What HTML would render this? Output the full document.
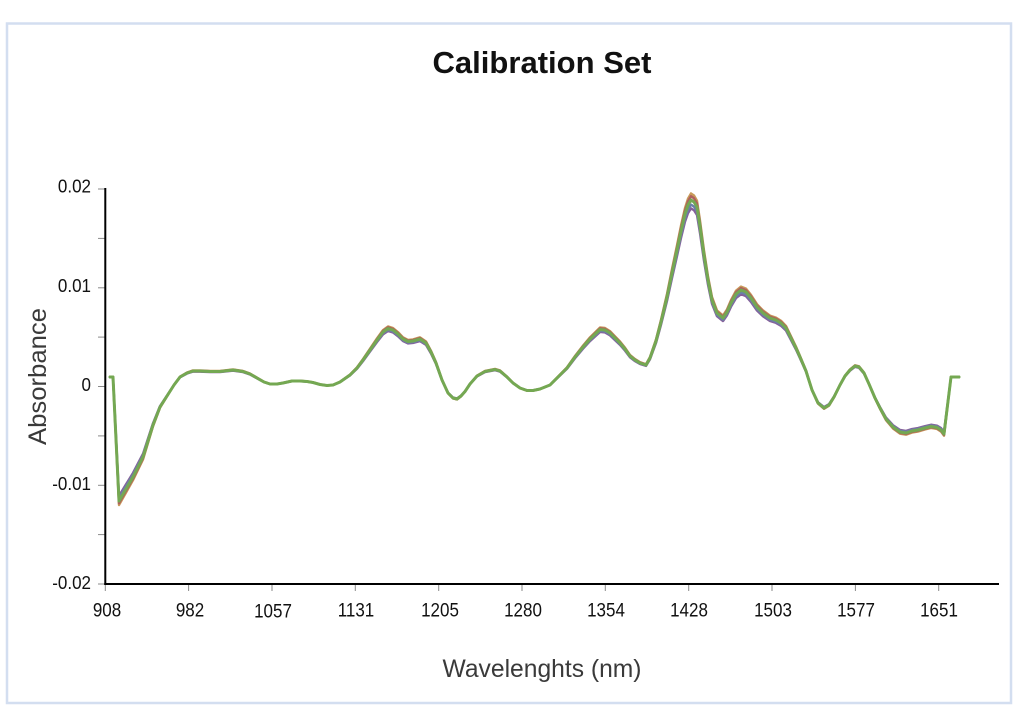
<!DOCTYPE html>
<html>
<head>
<meta charset="utf-8">
<style>
  html, body { margin:0; padding:0; background:#ffffff; }
  body { width:1024px; height:726px; overflow:hidden; }
  svg { display:block; }
  text { font-family: "Liberation Sans", "DejaVu Sans", sans-serif; }
</style>
</head>
<body>
<svg width="1024" height="726" viewBox="0 0 1024 726" xmlns="http://www.w3.org/2000/svg">
  <rect x="0" y="0" width="1024" height="726" fill="#ffffff"/>
  <!-- frame -->
  <rect x="7" y="23.5" width="1004" height="679.5" fill="#ffffff" stroke="#d3def0" stroke-width="2.5"/>

  <!-- title -->
  <text x="542" y="73" text-anchor="middle" font-size="31" font-weight="bold" fill="#111" textLength="219" lengthAdjust="spacingAndGlyphs">Calibration Set</text>

  <!-- y ticks -->
  <g stroke="#8a8a8a" stroke-width="1">
    <line x1="98" y1="189" x2="105" y2="189"/>
    <line x1="98" y1="238.4" x2="105" y2="238.4"/>
    <line x1="98" y1="287.8" x2="105" y2="287.8"/>
    <line x1="98" y1="337.1" x2="105" y2="337.1"/>
    <line x1="98" y1="386.5" x2="105" y2="386.5"/>
    <line x1="98" y1="435.9" x2="105" y2="435.9"/>
    <line x1="98" y1="485.3" x2="105" y2="485.3"/>
    <line x1="98" y1="534.6" x2="105" y2="534.6"/>
    <line x1="98" y1="584" x2="105" y2="584"/>
  </g>
  <!-- x ticks -->
  <g stroke="#8a8a8a" stroke-width="1">
    <line x1="105.3" y1="584" x2="105.3" y2="591"/>
    <line x1="188.6" y1="584" x2="188.6" y2="591"/>
    <line x1="272" y1="584" x2="272" y2="591"/>
    <line x1="355.3" y1="584" x2="355.3" y2="591"/>
    <line x1="438.7" y1="584" x2="438.7" y2="591"/>
    <line x1="522" y1="584" x2="522" y2="591"/>
    <line x1="605.3" y1="584" x2="605.3" y2="591"/>
    <line x1="688.7" y1="584" x2="688.7" y2="591"/>
    <line x1="772" y1="584" x2="772" y2="591"/>
    <line x1="855.4" y1="584" x2="855.4" y2="591"/>
    <line x1="938.7" y1="584" x2="938.7" y2="591"/>
  </g>

  <!-- axes -->
  <line x1="105.3" y1="188" x2="105.3" y2="585" stroke="#000" stroke-width="2"/>
  <line x1="104.3" y1="584" x2="999" y2="584" stroke="#000" stroke-width="2"/>

  <!-- y labels -->
  <g font-size="17" fill="#111" text-anchor="end">
    <text transform="translate(91,192.5) scale(1,1.1)">0.02</text>
    <text transform="translate(91,292) scale(1,1.1)">0.01</text>
    <text transform="translate(91,391) scale(1,1.1)">0</text>
    <text transform="translate(91,490) scale(1,1.1)">-0.01</text>
    <text transform="translate(91,589) scale(1,1.1)">-0.02</text>
  </g>
  <!-- x labels -->
  <g font-size="17" fill="#111" text-anchor="middle">
    <text transform="translate(107,616.5) scale(1,1.12)">908</text>
    <text transform="translate(190,616.5) scale(1,1.12)">982</text>
    <text transform="translate(273,617.5) scale(1,1.12)">1057</text>
    <text transform="translate(356,616.5) scale(1,1.12)">1131</text>
    <text transform="translate(440,616.5) scale(1,1.12)">1205</text>
    <text transform="translate(523,616.5) scale(1,1.12)">1280</text>
    <text transform="translate(606,616.5) scale(1,1.12)">1354</text>
    <text transform="translate(689,616.5) scale(1,1.12)">1428</text>
    <text transform="translate(773,616.5) scale(1,1.12)">1503</text>
    <text transform="translate(856,616.5) scale(1,1.12)">1577</text>
    <text transform="translate(939,616.5) scale(1,1.12)">1651</text>
  </g>

  <!-- axis titles -->
  <text x="542" y="677" text-anchor="middle" font-size="25" fill="#3a3a3a" textLength="199" lengthAdjust="spacingAndGlyphs">Wavelenghts (nm)</text>
  <text transform="translate(46,376.5) rotate(-90)" text-anchor="middle" font-size="25" fill="#3a3a3a" textLength="137" lengthAdjust="spacingAndGlyphs">Absorbance</text>

  <defs>
    <path id="spec" fill="none" stroke-linejoin="round" stroke-linecap="round"
      d="M110,377 L113,377 L119,501 L126,489 L133,477 L143,457 L153,425 L160,407 L167,396 L174,385 L180,377 L187,373 L193,371 L200,371 L210,371.5 L220,371.5 L233,370 L243,371.5 L250,374 L257,378 L264,382 L270,384 L277,384 L283,383 L292,381 L300,381 L307,381.5 L313,382.5 L320,384.5 L327,385.5 L333,385 L340,382 L350,375 L357,368 L363,360 L370,350 L377,340 L383,332 L388,328.5 L393,330 L398,334 L403,339 L408,341.5 L413,341 L420,339 L426,343 L431,352 L436,363 L442,380 L448,393 L453,398 L457,399 L461,396 L465,391.5 L470,384 L477,376 L485,371.5 L495,369.5 L500,371 L507,377 L513,383 L520,388 L527,390.5 L533,390.5 L540,389 L550,385 L558,377 L567,368 L575,357 L583,347 L590,339 L600,329.5 L605,330 L610,333 L615,338 L620,343 L625,349 L630,356 L635,360 L640,363 L646,365 L650,358 L656,341 L661,322 L667,297 L672,273 L677,250 L681,231 L685,214 L688,205 L691,200 L694,202 L697,207 L700,226 L704,255 L708,280 L712,300 L717,313 L723,318 L727,312 L731,303 L736,294 L741,290 L746,292 L751,298 L757,307 L763,313 L770,318 L776,320 L781,323 L786,328 L791,338 L796,348 L800,357 L806,371 L812,390 L818,403 L824,408 L829,405 L834,397 L840,385 L845,376 L850,370 L855,366 L859,367 L864,373 L869,384 L875,398 L880,408 L886,419 L893,427 L900,432 L906,433 L912,431 L918,430 L925,428 L931,426.5 L937,427.5 L941,430 L944,434 L951,377 L959,377"/>
  </defs>

  <!-- spectra bundle -->
  <g>
    <use href="#spec" stroke="#c89a5a" stroke-width="2.4" transform="translate(0,386) scale(1,1.035) translate(0,-386)"/>
    <use href="#spec" stroke="#b0605d" stroke-width="2.4" transform="translate(0,386) scale(1,1.02) translate(0,-386)"/>
    <use href="#spec" stroke="#86609a" stroke-width="2.4" transform="translate(0,386) scale(1,0.955) translate(0,-386)"/>
    <use href="#spec" stroke="#6a80a8" stroke-width="2.4" transform="translate(0,386) scale(1,0.975) translate(0,-386)"/>
    <use href="#spec" stroke="#74a852" stroke-width="3"/>
  </g>
</svg>
</body>
</html>
